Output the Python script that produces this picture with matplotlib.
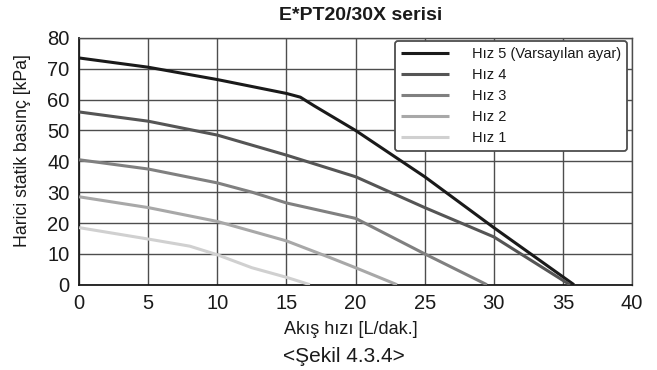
import matplotlib
matplotlib.use("Agg")
import matplotlib.pyplot as plt

plt.rcParams['font.family'] = ['Liberation Sans', 'DejaVu Sans']

# Data (flow L/min, pressure kPa)
x5 = [0, 5, 10, 13, 15, 16, 17, 20, 25, 30, 35.8]
y5 = [73.5, 70.5, 66.5, 63.8, 62, 60.8, 58, 50, 35, 18.5, 0]
x4 = [0, 5, 10, 15, 20, 25, 30, 35.5]
y4 = [56, 53, 48.5, 42, 35, 25, 15.5, 0]
x3 = [0, 5, 10, 12.5, 15, 20, 25, 29.5]
y3 = [40.5, 37.5, 33, 30, 26.5, 21.5, 10, 0]
x2 = [0, 5, 10, 15, 18.2, 20, 23]
y2 = [28.5, 25, 20.5, 14.2, 8.7, 5.5, 0]
x1 = [0, 5, 8, 10, 12.5, 15, 16.7]
y1 = [18.5, 14.8, 12.5, 9.7, 5.5, 2.4, 0]

series = [
    ("Hız 5 (Varsayılan ayar)", x5, y5, "#1a1a1a"),
    ("Hız 4", x4, y4, "#555555"),
    ("Hız 3", x3, y3, "#808080"),
    ("Hız 2", x2, y2, "#a8a8a8"),
    ("Hız 1", x1, y1, "#d0d0d0"),
]

xticks = [0, 5, 10, 15, 20, 25, 30, 35, 40]
yticks = [0, 10, 20, 30, 40, 50, 60, 70, 80]

W, H = 657, 370
fig = plt.figure(figsize=(6.57, 3.70), dpi=100)
ax = fig.add_axes([0.1205, 0.2305, 0.8415, 0.667])

for lab, xs, ys, c in series:
    ax.plot(xs, ys, color=c, lw=2.2, label=lab, solid_capstyle='butt', zorder=3)

ax.set_xlim(0, 40)
ax.set_ylim(0, 80)
ax.set_xticks(xticks)
ax.set_yticks(yticks)
ax.grid(True, color="#4d4d4d", lw=1.0, zorder=1)
ax.tick_params(length=0, labelsize=14.5, pad=7, colors="#1a1a1a")
for s in ['top', 'right']:
    ax.spines[s].set_color('#4d4d4d')
    ax.spines[s].set_linewidth(1.0)
for s in ['left', 'bottom']:
    ax.spines[s].set_color('#1a1a1a')
    ax.spines[s].set_linewidth(1.3)

fig.text(351 / W, 1 - 330 / H, "Akış hızı [L/dak.]", ha='center', va='center',
         fontsize=13, color="#1a1a1a")
fig.text(23 / W, 1 - 151 / H, "Harici statik basınç [kPa]", ha='center', va='center',
         rotation=90, fontsize=12.7, color="#1a1a1a")
fig.text(361 / W, 1 - 16 / H, "E*PT20/30X serisi", ha='center', va='center',
         fontsize=14, fontweight='bold', color="#1a1a1a")
fig.text(344 / W, 1 - 357 / H, "<Şekil 4.3.4>", ha='center', va='center',
         fontsize=15, color="#1a1a1a")

leg = ax.legend(loc='upper right', bbox_to_anchor=(0.991, 0.988), borderaxespad=0,
                fontsize=10.5, handlelength=3.3, handletextpad=1.6, labelspacing=0.49,
                fancybox=True, framealpha=1, edgecolor="#4d4d4d", borderpad=0.4)
leg.get_frame().set_linewidth(1.3)
for t in leg.get_texts():
    t.set_color("#1a1a1a")

fig.savefig("out.png", dpi=100)
